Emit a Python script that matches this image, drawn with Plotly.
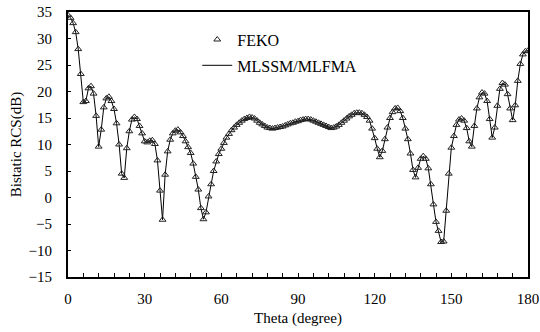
import plotly.graph_objects as go

theta = list(range(0, 181))
rcs = [
    34.4, 33.9, 32.9, 31.2, 28.0, 23.3, 18.0, 18.2, 20.6, 21.0,
    19.6, 15.4, 9.6, 12.8, 17.0, 18.7, 19.0, 18.2, 16.7, 14.0,
    10.0, 4.5, 3.7, 9.3, 12.5, 14.7, 15.2, 14.8, 13.5, 12.1,
    10.6, 10.4, 10.7, 10.8, 10.1, 7.0, 1.3, -4.2, 4.3, 8.7,
    10.9, 12.1, 12.6, 12.8, 12.3, 11.6, 10.6, 9.5, 8.4, 6.4,
    3.9, 1.5, -2.0, -4.1, -2.8, 0.2, 2.5, 5.0, 6.8, 8.2,
    9.2, 10.3, 11.3, 12.0, 12.7, 13.2, 13.7, 14.1, 14.5, 14.8,
    15.0, 15.2, 15.1, 14.9, 14.5, 14.1, 13.8, 13.5, 13.2, 13.1,
    13.0, 13.1, 13.2, 13.3, 13.4, 13.6, 13.8, 14.0, 14.1, 14.3,
    14.4, 14.6, 14.7, 14.8, 14.8, 14.7, 14.5, 14.3, 14.1, 13.9,
    13.7, 13.5, 13.3, 13.1, 13.2, 13.4, 13.7, 14.1, 14.5, 14.9,
    15.3, 15.6, 15.9, 16.0, 16.0, 15.9, 15.6, 15.2, 14.5, 13.0,
    11.2, 9.2, 7.6, 8.8, 11.0, 13.2, 15.0, 16.1, 16.8, 16.9,
    16.3, 15.0, 13.0, 11.0, 8.3, 5.2, 3.8, 5.6, 7.3, 7.8,
    7.3, 5.5, 2.5, -1.3, -4.6, -6.3, -8.4, -8.3, -2.5, 4.5,
    9.4, 11.6, 13.7, 14.7, 14.9, 14.5, 13.1, 10.6, 9.6, 13.5,
    16.8, 18.9, 19.8, 19.6, 18.2, 14.8, 11.3, 13.2, 17.3, 20.5,
    21.6, 21.3, 19.5, 16.8, 14.6, 17.4, 22.0, 25.2, 27.0, 27.6,
    27.7,
]

x_ticks = [0, 30, 60, 90, 120, 150, 180]
y_ticks = [-15, -10, -5, 0, 5, 10, 15, 20, 25, 30, 35]

FONT = "Liberation Serif, Times New Roman, serif"

fig = go.Figure()
fig.add_trace(go.Scatter(
    x=theta, y=rcs, mode="lines", name="MLSSM/MLFMA",
    line=dict(color="black", width=1), legendrank=2, legendgroup="b",
))
fig.add_trace(go.Scatter(
    x=theta, y=rcs, mode="markers", name="FEKO",
    marker=dict(symbol="triangle-up-open", size=6, color="#222222",
                line=dict(width=1, color="#222222")),
    legendrank=1, legendgroup="a",
))

fig.update_layout(
    width=540, height=332,
    margin=dict(l=68, r=12, t=12, b=55, autoexpand=False),
    paper_bgcolor="white", plot_bgcolor="white",
    font=dict(family=FONT, size=15, color="black"),
    showlegend=True,
    legend=dict(x=0.281, y=0.96, xanchor="left", yanchor="top",
                bgcolor="rgba(0,0,0,0)", font=dict(family=FONT, size=16),
                traceorder="grouped", tracegroupgap=2),
    xaxis=dict(
        range=[0, 180], tickvals=x_ticks, ticktext=[str(v) for v in x_ticks],
        ticks="inside", ticklen=4, tickwidth=1, tickcolor="black",
        minor=dict(dtick=6, tick0=0, ticks="inside", ticklen=4, tickcolor="black"),
        showline=True, linecolor="black", linewidth=2, mirror=True,
        showgrid=False, zeroline=False, automargin=False,
        ticklabelstandoff=7,
        title=dict(text="Theta (degree)", font=dict(family=FONT, size=15), standoff=6),
        tickfont=dict(family=FONT, size=15),
    ),
    yaxis=dict(
        range=[-15, 35], tickvals=y_ticks,
        ticks="inside", ticklen=3, tickwidth=1, tickcolor="black",
        showline=True, linecolor="black", linewidth=2, mirror=True,
        showgrid=False, zeroline=False, automargin=False,
        ticklabelstandoff=11,
        title=dict(text="Bistatic RCS(dB)", font=dict(family=FONT, size=15), standoff=3),
        tickfont=dict(family=FONT, size=15),
    ),
)

fig.write_html("out.html", config={"displayModeBar": False},
               post_script="document.body.style.margin='0px';")
